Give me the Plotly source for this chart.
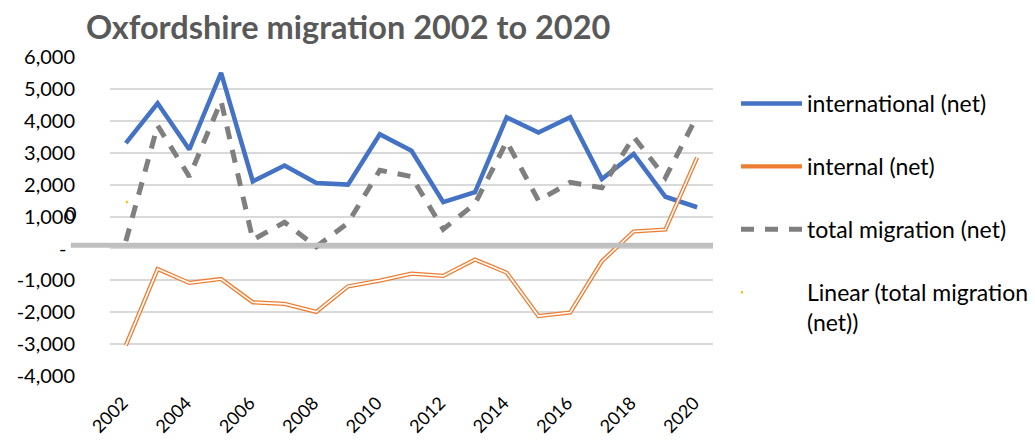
import numpy as np
import plotly.graph_objects as go

years = list(range(2002, 2021))
international = [3300, 4550, 3100, 5500, 2100, 2600, 2050, 2000, 3580, 3060,
                 1450, 1760, 4110, 3630, 4110, 2175, 2960, 1620, 1290]
internal = [-3040, -650, -1080, -960, -1690, -1740, -1990, -1190, -1010, -790,
            -860, -350, -760, -2120, -2010, -400, 530, 590, 2850]
total = [230, 3850, 2250, 4620, 270, 820, 50, 800, 2450, 2250,
         600, 1400, 3350, 1500, 2070, 1900, 3500, 2220, 4150]

y_ticks = list(range(-4000, 6001, 1000))
y_labels = ["-4,000", "-3,000", "-2,000", "-1,000", "", "1,000",
            "2,000", "3,000", "4,000", "5,000", "6,000"]
x_ticks = list(range(2002, 2021, 2))

# linear trendline of total migration (as Excel's "Linear" trendline)
coef = np.polyfit(years, total, 1)
trend = list(np.polyval(coef, years))

FONT = "Lato, Calibri, Carlito, sans-serif"

fig = go.Figure()
fig.add_trace(go.Scatter(x=years, y=international, mode="lines",
                         name="international (net)", legendgroup="a",
                         line=dict(color="#4472C4", width=4.5)))
fig.add_trace(go.Scatter(x=years, y=internal, mode="lines",
                         name="internal (net)", legendgroup="b",
                         line=dict(color="#ED7D31", width=4.2)))
fig.add_trace(go.Scatter(x=years, y=internal, mode="lines",
                         showlegend=False, hoverinfo="skip", legendgroup="b",
                         line=dict(color="white", width=1.6)))
fig.add_trace(go.Scatter(x=years, y=total, mode="lines",
                         name="total migration (net)", legendgroup="c",
                         line=dict(color="#7F7F7F", width=5, dash="13px,11px")))
fig.add_trace(go.Scatter(x=years, y=trend, mode="lines",
                         name="Linear (total migration<br>(net))", legendgroup="d",
                         line=dict(color="#FFC000", width=2.5, dash="2px,3000px")))

fig.add_shape(type="line", xref="paper", yref="y", x0=-0.065, x1=1.0, y0=100, y1=100,
              line=dict(color="#BFBFBF", width=5), layer="above")

# zero tick label (accounting-style dash) and stray "0" label from the original
fig.add_annotation(text="-", xref="paper", yref="y", x=(63 - 110) / 603, y=0,
                   xanchor="center", showarrow=False,
                   font=dict(family=FONT, size=20, color="black"))
fig.add_annotation(text="0", xref="paper", yref="y", x=(71 - 110) / 603, y=1120,
                   xanchor="center", showarrow=False,
                   font=dict(family=FONT, size=20, color="black"))

fig.update_layout(
    width=1035, height=443,
    paper_bgcolor="white", plot_bgcolor="white",
    margin=dict(l=110, r=322, t=57, b=67, autoexpand=False),
    font=dict(family=FONT, size=20, color="black"),
    title=dict(text="<b>Oxfordshire migration 2002 to 2020</b>",
               font=dict(family="Lato, sans-serif", size=32.5, color="#595959"),
               x=86 / 1035, xanchor="left", xref="container",
               y=1 - 28 / 443, yanchor="middle", yref="container"),
    showlegend=True,
    legend=dict(x=(736 - 110) / 603, xanchor="left", y=(376 - 82) / 319, yanchor="top",
                traceorder="grouped", tracegroupgap=30, valign="top", itemwidth=61,
                font=dict(family=FONT, size=23, color="black"),
                bgcolor="rgba(0,0,0,0)"),
    xaxis=dict(range=[2001.5, 2020.5], tickvals=x_ticks, ticktext=[str(v) for v in x_ticks],
               tickangle=-45, showgrid=False, zeroline=False, showline=False,
               ticks="", ticklabelstandoff=12, ticklabelshift=-3, automargin=False,
               tickfont=dict(family=FONT, size=18, color="black")),
    yaxis=dict(range=[-4000, 6000], tickvals=y_ticks, ticktext=y_labels,
               showgrid=True, gridcolor="#D9D9D9", gridwidth=1.5, automargin=False,
               zeroline=False, showline=False, ticks="", ticklabelstandoff=34,
               tickfont=dict(family=FONT, size=20, color="black")),
)

fig.write_html("out.html", post_script="document.body.style.margin='0';",
               config={"displayModeBar": False})
